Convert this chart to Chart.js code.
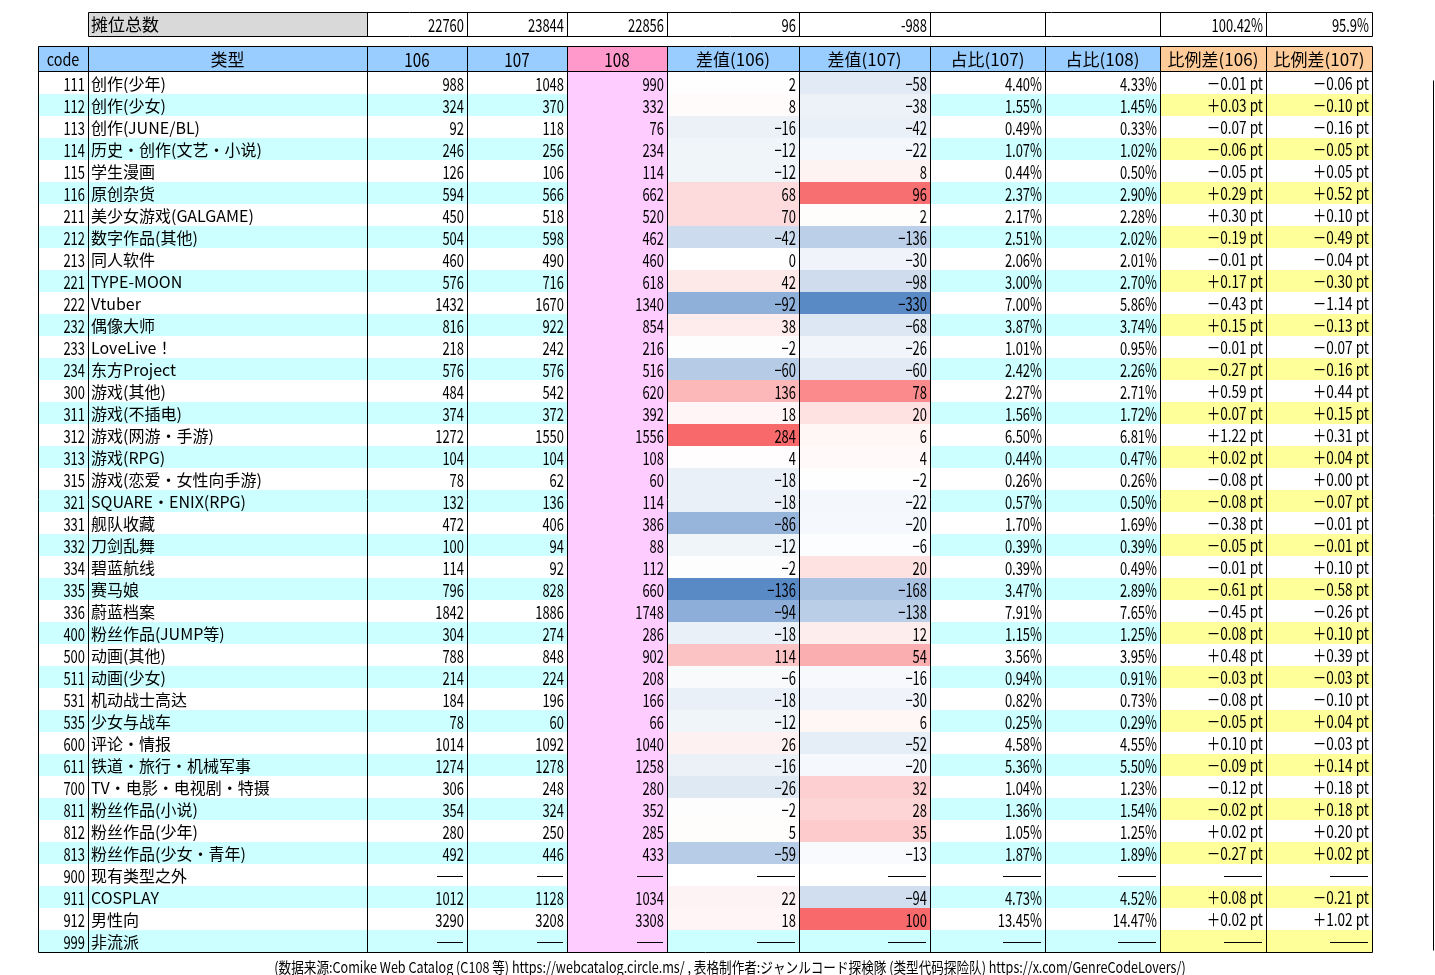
<!DOCTYPE html>
<html><head><meta charset="utf-8">
<script src="https://cdn.jsdelivr.net/npm/chart.js@4"></script>
<style>html,body{margin:0;padding:0;background:#fff}#wrap{width:1435px;height:975px}</style>
</head><body><div id="wrap"><canvas id="c"></canvas></div>
<script>
const codes=[111,112,113,114,115,116,211,212,213,221,222,232,233,234,300,311,312,313,315,321,331,332,334,335,336,400,500,511,531,535,600,611,700,811,812,813,900,911,912,999];
const types=["创作(少年)","创作(少女)","创作(JUNE/BL)","历史・创作(文艺・小说)","学生漫画","原创杂货","美少女游戏(GALGAME)","数字作品(其他)","同人软件","TYPE-MOON","Vtuber","偶像大师","LoveLive！","东方Project","游戏(其他)","游戏(不插电)","游戏(网游・手游)","游戏(RPG)","游戏(恋爱・女性向手游)","SQUARE・ENIX(RPG)","舰队收藏","刀剑乱舞","碧蓝航线","赛马娘","蔚蓝档案","粉丝作品(JUMP等)","动画(其他)","动画(少女)","机动战士高达","少女与战车","评论・情报","铁道・旅行・机械军事","TV・电影・电视剧・特摄","粉丝作品(小说)","粉丝作品(少年)","粉丝作品(少女・青年)","现有类型之外","COSPLAY","男性向","非流派"];
const v106=[988,324,92,246,126,594,450,504,460,576,1432,816,218,576,484,374,1272,104,78,132,472,100,114,796,1842,304,788,214,184,78,1014,1274,306,354,280,492,null,1012,3290,null];
const v107=[1048,370,118,256,106,566,518,598,490,716,1670,922,242,576,542,372,1550,104,62,136,406,94,92,828,1886,274,848,224,196,60,1092,1278,248,324,250,446,null,1128,3208,null];
const v108=[990,332,76,234,114,662,520,462,460,618,1340,854,216,516,620,392,1556,108,60,114,386,88,112,660,1748,286,902,208,166,66,1040,1258,280,352,285,433,null,1034,3308,null];
const d106=[2,8,-16,-12,-12,68,70,-42,0,42,-92,38,-2,-60,136,18,284,4,-18,-18,-86,-12,-2,-136,-94,-18,114,-6,-18,-12,26,-16,-26,-2,5,-59,null,22,18,null];
const d107=[-58,-38,-42,-22,8,96,2,-136,-30,-98,-330,-68,-26,-60,78,20,6,4,-2,-22,-20,-6,20,-168,-138,12,54,-16,-30,6,-52,-20,32,28,35,-13,null,-94,100,null];
const r107=[4.40,1.55,0.49,1.07,0.44,2.37,2.17,2.51,2.06,3.00,7.00,3.87,1.01,2.42,2.27,1.56,6.50,0.44,0.26,0.57,1.70,0.39,0.39,3.47,7.91,1.15,3.56,0.94,0.82,0.25,4.58,5.36,1.04,1.36,1.05,1.87,null,4.73,13.45,null];
const r108=[4.33,1.45,0.33,1.02,0.50,2.90,2.28,2.02,2.01,2.70,5.86,3.74,0.95,2.26,2.71,1.72,6.81,0.47,0.26,0.50,1.69,0.39,0.49,2.89,7.65,1.25,3.95,0.91,0.73,0.29,4.55,5.50,1.23,1.54,1.25,1.89,null,4.52,14.47,null];
const p106=[-0.01,0.03,-0.07,-0.06,-0.05,0.29,0.30,-0.19,-0.01,0.17,-0.43,0.15,-0.01,-0.27,0.59,0.07,1.22,0.02,-0.08,-0.08,-0.38,-0.05,-0.01,-0.61,-0.45,-0.08,0.48,-0.03,-0.08,-0.05,0.10,-0.09,-0.12,-0.02,0.02,-0.27,null,0.08,0.02,null];
const p107=[-0.06,-0.10,-0.16,-0.05,0.05,0.52,0.10,-0.49,-0.04,-0.30,-1.14,-0.13,-0.07,-0.16,0.44,0.15,0.31,0.04,0.00,-0.07,-0.01,-0.01,0.10,-0.58,-0.26,0.10,0.39,-0.03,-0.10,0.04,-0.03,0.14,0.18,0.18,0.20,0.02,null,-0.21,1.02,null];
const headers=["code","类型","106","107","108","差值(106)","差值(107)","占比(107)","占比(108)","比例差(106)","比例差(107)"];
const totals=["摊位总数","22760","23844","22856","96","-988","","","100.42%","95.9%"];
const footer="(数据来源:Comike Web Catalog (C108 等) https://webcatalog.circle.ms/ , 表格制作者:ジャンルコード探検隊 (类型代码探险队) https://x.com/GenreCodeLovers/)";

// layout (style)
const edges=[38,88,367,467,567,667,799,930,1045,1160,1266,1372];
const ROW0=72, RH=22;
const HY0=46, HY1=71, TY0=12, TY1=36;
const FONT='"Noto Sans CJK JP","Noto Sans CJK SC",sans-serif';

function mix(a,b,t){return 'rgb('+a.map((v,i)=>Math.round(v+(b[i]-v)*t)).join(',')+')';}
const BLUE=[90,138,198],RED=[248,105,107],WHITE=[255,255,255];
function heat(v,arr){const vals=arr.filter(x=>x!=null);const mn=Math.min(...vals),mx=Math.max(...vals);
  if(v>=0)return mix(WHITE,RED,v/mx);return mix(WHITE,BLUE,v/mn);}
const fmtPt=v=>(v<0?'－':'＋')+Math.abs(v).toFixed(2)+' pt';

const tablePlugin={id:'table',afterDraw(chart){
  const ctx=chart.ctx,xs=chart.scales.x,ys=chart.scales.y;
  const X=u=>xs.getPixelForValue(u),Y=u=>ys.getPixelForValue(u);
  function rect(x0,y0,x1,y1,fill){ctx.fillStyle=fill;ctx.fillRect(X(x0),Y(y0),X(x1)-X(x0),Y(y1)-Y(y0));}
  function text(s,x0,x1,y0,y1,align,cond,size){
    ctx.save();ctx.fillStyle='#000';ctx.font=(size||16)+'px '+FONT;ctx.textBaseline='middle';
    const yc=(Y(y0)+Y(y1))/2+1;const sx=cond?(typeof cond==='number'?cond:0.72):1;
    let px;const w=ctx.measureText(s).width*sx;
    if(align==='right')px=X(x1)-3-w;else if(align==='left')px=X(x0)+3;else px=(X(x0)+X(x1))/2-w/2;
    ctx.translate(px,yc);ctx.scale(sx,1);ctx.fillText(s,0,0);ctx.restore();}
  function line(x0,y0,x1,y1,dash,w){ctx.save();ctx.strokeStyle='#000';ctx.lineWidth=w||1;ctx.setLineDash(dash||[]);
    ctx.beginPath();ctx.moveTo(Math.round(X(x0))+0.5,Math.round(Y(y0))+0.5);ctx.lineTo(Math.round(X(x1))+0.5,Math.round(Y(y1))+0.5);ctx.stroke();ctx.restore();}
  // totals row
  rect(edges[1],TY0,edges[2],TY1,'#d9d9d9');
  text(totals[0],edges[1],edges[2],TY0,TY1,'left',false,17);
  for(let i=1;i<totals.length;i++)if(totals[i])text(totals[i],edges[i+1],edges[i+2],TY0,TY1,'right',true,18);
  line(edges[1],TY0,edges[11],TY0);line(edges[1],TY1,edges[11],TY1);
  for(let i=1;i<=11;i++)line(edges[i],TY0,edges[i],TY1);
  // header
  const hc=['#99ccff','#99ccff','#99ccff','#99ccff','#ff99cc','#99ccff','#99ccff','#99ccff','#99ccff','#ffcc99','#ffcc99'];
  for(let c=0;c<11;c++){rect(edges[c],HY0,edges[c+1],HY1,hc[c]);text(headers[c],edges[c],edges[c+1],HY0,HY1,'center',(c>=2&&c<=4)?0.8:(c===0?0.85:false),c>=2&&c<=4?19:17);}
  // rows
  const n=codes.length;
  for(let r=0;r<n;r++){
    const y0=ROW0+r*RH,y1=y0+RH,alt=r%2===1;
    const base=alt?'#ccffff':'#ffffff';
    for(let c=0;c<11;c++){
      let f=base;
      if(c===4)f='#ffccff';
      if(c===5&&d106[r]!=null)f=heat(d106[r],d106);
      if(c===6&&d107[r]!=null)f=heat(d107[r],d107);
      if(c>=9&&alt)f='#ffff99';
      rect(edges[c],y0,edges[c+1],y1,f);
    }
    text(String(codes[r]),edges[0],edges[1],y0,y1,'right',true,18);
    text(types[r],edges[1],edges[2],y0,y1,'left',false,16);
    const cells=[v106[r],v107[r],v108[r],d106[r],d107[r]];
    if(v106[r]==null){
      for(let c=2;c<11;c++){const xr=X(edges[c+1])-4,wd=c>=5?38:26;ctx.fillStyle='#000';ctx.fillRect(xr-wd,Math.round(Y(y0+12)),wd,1);}
    }else{
      cells.forEach((v,i)=>text(String(v).replace('-','−'),edges[i+2],edges[i+3],y0,y1,'right',true,18));
      text(r107[r].toFixed(2)+'%',edges[7],edges[8],y0,y1,'right',true,18);
      text(r108[r].toFixed(2)+'%',edges[8],edges[9],y0,y1,'right',true,18);
      text(fmtPt(p106[r]),edges[9],edges[10],y0,y1,'right',0.8,17);
      text(fmtPt(p107[r]),edges[10],edges[11],y0,y1,'right',0.8,17);
    }
    if(r<n-1)line(edges[0],y1,edges[11],y1,[1,1]);
  }
  const yEnd=ROW0+n*RH;
  line(edges[0],HY0,edges[11],HY0);line(edges[0],HY1,edges[11],HY1);line(edges[0],yEnd,edges[11],yEnd);
  for(let i=0;i<=11;i++)line(edges[i],HY0,edges[i],yEnd);
  line(1433,80,1433,950);
  text(footer,edges[0],1422,958,975,'center',0.84,15);
}};

new Chart(document.getElementById('c'),{
  type:'scatter',
  data:{datasets:[{data:[],pointRadius:0}]},
  options:{responsive:true,maintainAspectRatio:false,animation:false,
    layout:{padding:0},
    plugins:{legend:{display:false},tooltip:{enabled:false}},
    scales:{x:{type:'linear',min:0,max:1435,display:false},y:{type:'linear',min:0,max:975,reverse:true,display:false}}},
  plugins:[tablePlugin]
});
</script></body></html>
